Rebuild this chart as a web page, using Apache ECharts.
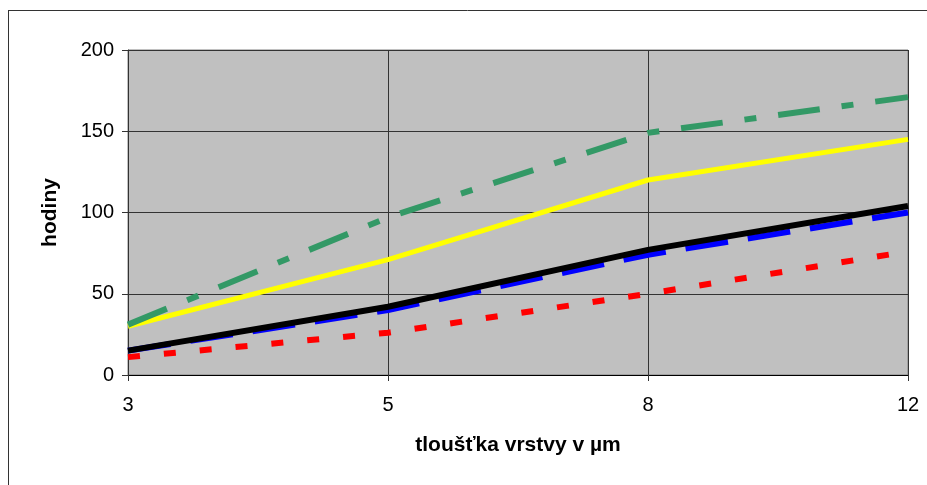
<!DOCTYPE html>
<html><head><meta charset="utf-8">
<script src="https://cdn.jsdelivr.net/npm/echarts@6/dist/echarts.min.js"></script>
<style>html,body{margin:0;padding:0;background:#fff}#c{width:927px;height:485px}</style>
</head><body><div id="c"></div>
<script>
const categories = ['3', '5', '8', '12'];
const greenDashDot = [31, 97, 149, 171];
const yellowSolid = [30, 71, 120, 145];
const blackSolid = [15, 42, 77, 104];
const blueDashed = [15, 40, 74, 100];
const redDotted = [11, 26, 50, 76];

const chart = echarts.init(document.getElementById('c'));
const font = 'Liberation Sans, Arial, sans-serif';
function s(data, color, width, dash, z) {
  return { type: 'line', data: data, symbol: 'none', z: z, animation: false,
    lineStyle: { color: color, width: width, type: dash, cap: 'butt' } };
}
chart.setOption({
  animation: false,
  grid: { left: 128, right: 19, top: 50, bottom: 110, show: true, backgroundColor: '#c0c0c0', borderColor: '#808080', borderWidth: 1 },
  graphic: [
    { type: 'line', shape: { x1: 8.5, y1: 10, x2: 8.5, y2: 485 }, style: { stroke: '#333', lineWidth: 1 } },
    { type: 'line', shape: { x1: 8, y1: 10.5, x2: 927, y2: 10.5 }, style: { stroke: '#333', lineWidth: 1 } }
  ],
  xAxis: {
    type: 'category', data: categories, boundaryGap: false,
    name: 'tloušťka vrstvy v µm', nameLocation: 'middle', nameGap: 60,
    nameTextStyle: { fontFamily: font, fontSize: 21, fontWeight: 'bold', color: '#000' },
    axisLine: { lineStyle: { color: '#000', width: 1 } },
    axisTick: { show: true, length: 6, lineStyle: { color: '#333' } },
    axisLabel: { fontFamily: font, fontSize: 20, color: '#000', margin: 20 },
    splitLine: { show: true, lineStyle: { color: '#333', width: 1 } }
  },
  yAxis: {
    type: 'value', min: 0, max: 200, interval: 50,
    name: 'hodiny', nameLocation: 'middle', nameGap: 67,
    nameTextStyle: { fontFamily: font, fontSize: 21, fontWeight: 'bold', color: '#000' },
    axisLine: { show: true, lineStyle: { color: '#333', width: 1 } },
    axisTick: { show: true, length: 6, lineStyle: { color: '#333' } },
    axisLabel: { fontFamily: font, fontSize: 20, color: '#000', margin: 14 },
    splitLine: { show: true, lineStyle: { color: '#333', width: 1 } }
  },
  series: [
    s(redDotted, '#ff0000', 6, [12, 24], 2),
    s(blueDashed, '#0000ff', 6, [43, 20], 3),
    s(blackSolid, '#000000', 6, 'solid', 4),
    s(yellowSolid, '#ffff00', 5, 'solid', 5),
    s(greenDashDot, '#339966', 6, [42, 22, 12, 22], 6)
  ]
});
</script></body></html>
